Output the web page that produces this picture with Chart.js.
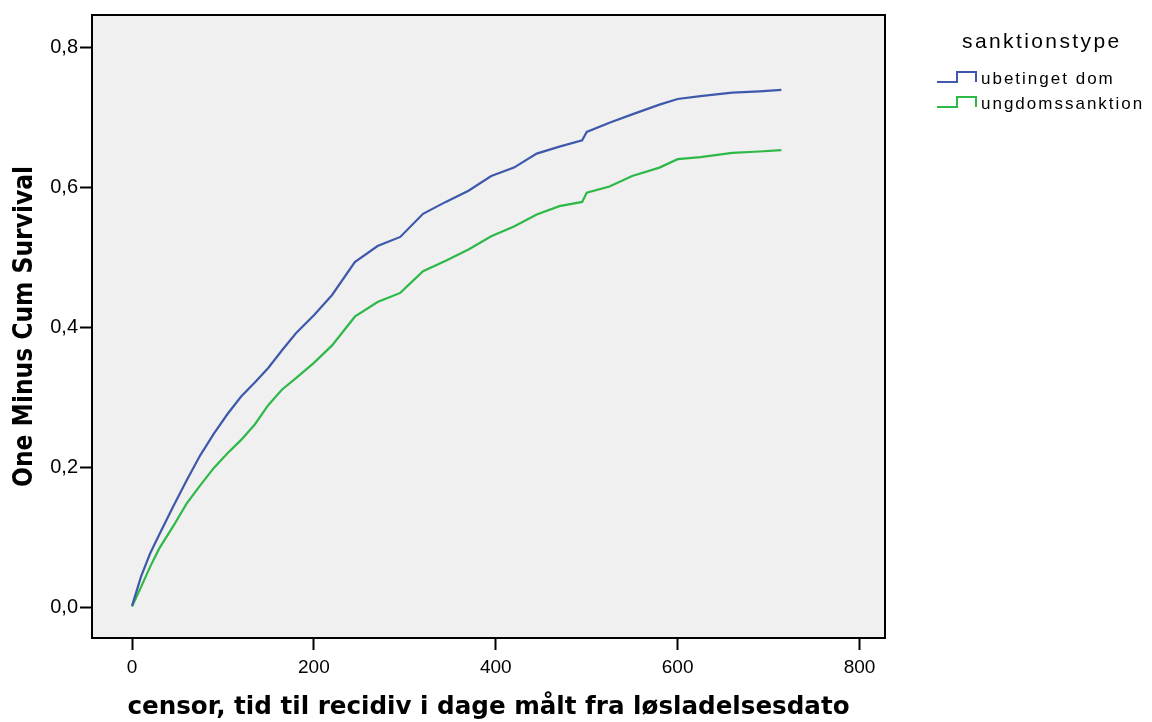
<!DOCTYPE html>
<html>
<head>
<meta charset="utf-8">
<script src="https://cdn.jsdelivr.net/npm/chart.js@4"></script>
<style>
  body { margin: 0; background: #fff; }
  #wrap { position: relative; width: 1152px; height: 722px; }
  #legend { position: absolute; left: 0; top: 0; font-family: Arial, "Liberation Sans", sans-serif; color: #000; }
  #legend div, #legend svg { position: absolute; white-space: nowrap; line-height: 1; }
  #legend .title { font-size: 21px; letter-spacing: 2.4px; }
  #legend .item { font-size: 17px; letter-spacing: 2px; }
</style>
</head>
<body>
<div id="wrap">
  <canvas id="kmChart" width="1152" height="722"></canvas>
  <div id="legend"></div>
</div>
<script>
const days = [0, 10, 20, 30, 45, 60, 75, 90, 105, 120, 135, 150, 165, 180, 200, 220, 245, 270, 295, 320,
  345, 370, 395, 420, 445, 470, 495, 500, 525, 550, 580, 600, 625, 660, 690, 714];
const ubetinget = [0.003, 0.045, 0.078, 0.105, 0.144, 0.182, 0.218, 0.249, 0.277, 0.302, 0.322, 0.343, 0.368, 0.392, 0.418, 0.447, 0.494, 0.517, 0.530, 0.563,
  0.580, 0.596, 0.617, 0.629, 0.649, 0.659, 0.668, 0.680, 0.693, 0.705, 0.719, 0.727, 0.731, 0.736, 0.738, 0.740];
const ungdom = [0.002, 0.030, 0.059, 0.085, 0.116, 0.149, 0.175, 0.200, 0.221, 0.240, 0.262, 0.290, 0.312, 0.328, 0.350, 0.375, 0.416, 0.437, 0.450, 0.481,
  0.496, 0.512, 0.531, 0.545, 0.562, 0.574, 0.580, 0.593, 0.602, 0.617, 0.629, 0.641, 0.644, 0.650, 0.652, 0.654];
const seriesNames = ['ubetinget dom', 'ungdomssanktion'];
const seriesColors = ['#3E58AC', '#2EB848'];
const xTicks = [0, 200, 400, 600, 800];
const yTicks = [0, 0.2, 0.4, 0.6, 0.8];

const sans = 'Arial, "Liberation Sans", sans-serif';
const toPoints = vals => days.map((d, i) => ({ x: d, y: vals[i] }));

const framePlugin = {
  id: 'frame',
  beforeDraw(chart) {
    const a = chart.chartArea, ctx = chart.ctx;
    ctx.save();
    ctx.fillStyle = '#F0F0F0';
    ctx.fillRect(a.left, a.top, a.right - a.left, a.bottom - a.top);
    ctx.restore();
  },
  afterDraw(chart) {
    const a = chart.chartArea, ctx = chart.ctx;
    ctx.save();
    ctx.strokeStyle = '#000';
    ctx.lineWidth = 2;
    ctx.strokeRect(a.left, a.top, a.right - a.left, a.bottom - a.top);
    ctx.restore();
  }
};

new Chart(document.getElementById('kmChart'), {
  type: 'line',
  data: {
    datasets: [
      { label: seriesNames[0], data: toPoints(ubetinget), borderColor: seriesColors[0], borderWidth: 2.2, pointRadius: 0, tension: 0 },
      { label: seriesNames[1], data: toPoints(ungdom), borderColor: seriesColors[1], borderWidth: 2.2, pointRadius: 0, tension: 0 }
    ]
  },
  options: {
    responsive: false,
    animation: false,
    layout: { padding: { left: 0, right: 267, top: 15, bottom: 0 } },
    plugins: { legend: { display: false }, tooltip: { enabled: false } },
    scales: {
      x: {
        type: 'linear',
        min: -44,
        max: 828,
        afterBuildTicks: s => { s.ticks = xTicks.map(v => ({ value: v })); },
        afterFit: s => { s.height = 84; },
        grid: { drawOnChartArea: false, tickLength: 12, tickWidth: 2, tickColor: '#000' },
        border: { display: false },
        ticks: { color: '#000', padding: 6, font: { family: sans, size: 19 } },
        title: {
          display: true,
          text: 'censor, tid til recidiv i dage målt fra løsladelsesdato',
          color: '#000',
          font: { family: '"DejaVu Sans", sans-serif', size: 24.6, weight: 'bold' },
          padding: { top: 0, bottom: 0 }
        }
      },
      y: {
        min: -0.043,
        max: 0.847,
        afterBuildTicks: s => { s.ticks = yTicks.map(v => ({ value: v })); },
        afterFit: s => { s.width = 92; },
        grid: { drawOnChartArea: false, tickLength: 12, tickWidth: 2, tickColor: '#000' },
        border: { display: false },
        ticks: {
          color: '#000', padding: 2,
          font: { family: sans, size: 20 },
          callback: v => v.toFixed(1).replace('.', ',')
        },
        title: {
          display: true,
          text: 'One Minus Cum Survival',
          color: '#000',
          font: { family: '"DejaVu Sans Condensed", sans-serif', size: 26, weight: 'bold' },
          padding: { top: 10, bottom: 0 }
        }
      }
    }
  },
  plugins: [framePlugin]
});

const legend = document.getElementById('legend');
let html = '<div class="title" style="left:962px;top:30px">sanktionstype</div>';
seriesNames.forEach((name, i) => {
  const top = 70 + i * 25;
  html += '<svg width="42" height="14" style="left:936px;top:' + top + 'px"><polyline points="1,12 21,12 21,2 40,2 40,12" fill="none" stroke="' +
    seriesColors[i] + '" stroke-width="2"/></svg>';
  html += '<div class="item" style="left:981px;top:' + top + 'px">' + name + '</div>';
});
legend.innerHTML = html;
</script>
</body>
</html>
